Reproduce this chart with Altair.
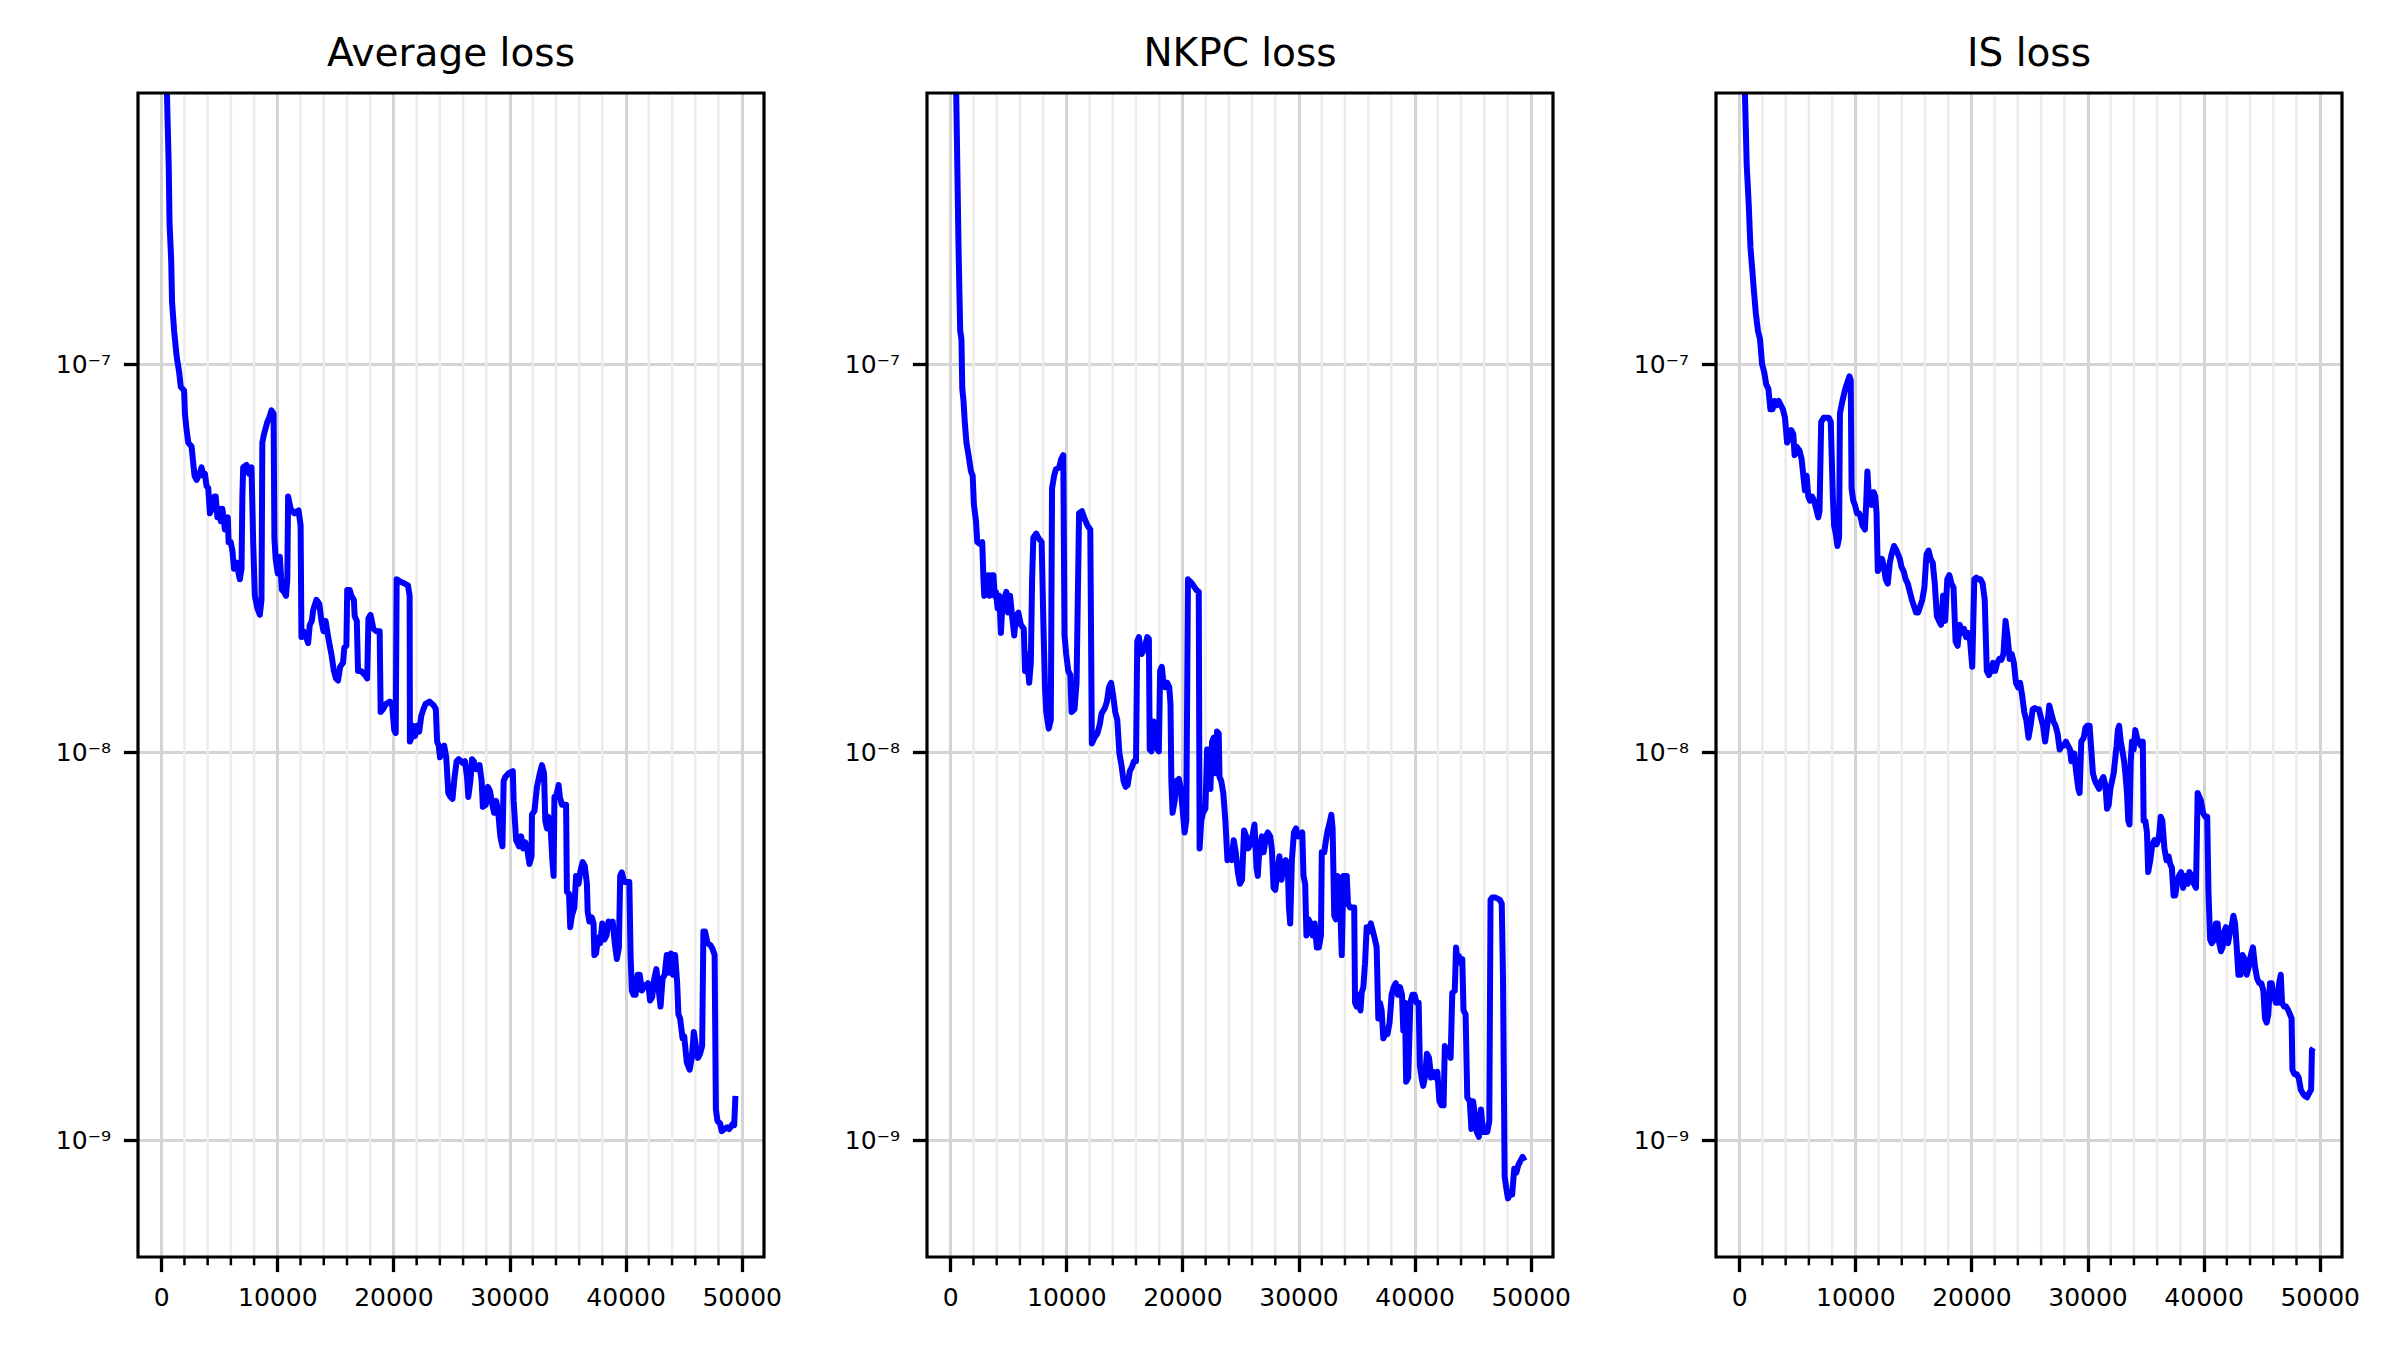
import altair as alt
import pandas as pd

# ---------------- data (training step, loss) ----------------
avg_points = [
    (400, 1.2e-6), (466, 5.35e-7), (645, 3.27e-7), (717, 2.31e-7), (860, 1.85e-7), (932, 1.45e-7),
    (1111, 1.22e-7), (1326, 1.05e-7), (1541, 9.55e-8), (1684, 8.75e-8), (1971, 8.55e-8), (2043, 7.46e-8),
    (2186, 6.76e-8), (2330, 6.28e-8), (2616, 6.13e-8), (2688, 5.83e-8), (2867, 5.16e-8), (3046, 5.03e-8),
    (3297, 5.22e-8), (3476, 5.42e-8), (3620, 5.16e-8), (3763, 5.22e-8), (3907, 4.85e-8), (4050, 4.79e-8),
    (4193, 4.13e-8), (4372, 4.24e-8), (4588, 4.56e-8), (4695, 4.56e-8), (4838, 4.03e-8), (4982, 4.24e-8),
    (5125, 3.94e-8), (5268, 4.24e-8), (5484, 3.75e-8), (5734, 4.03e-8), (5806, 3.48e-8), (5985, 3.48e-8),
    (6129, 3.31e-8), (6272, 2.97e-8), (6487, 3.08e-8), (6630, 2.93e-8), (6774, 2.79e-8), (6917, 2.97e-8),
    (6989, 4.56e-8), (7060, 5.42e-8), (7347, 5.50e-8), (7562, 5.22e-8), (7777, 5.42e-8), (7921, 3.48e-8),
    (8064, 2.53e-8), (8279, 2.35e-8), (8494, 2.26e-8), (8637, 2.47e-8), (8709, 6.28e-8), (8852, 6.60e-8),
    (9139, 7.10e-8), (9318, 7.30e-8), (9498, 7.60e-8), (9677, 7.46e-8), (9748, 3.57e-8), (9856, 3.15e-8),
    (10035, 2.89e-8), (10214, 3.19e-8), (10394, 2.62e-8), (10573, 2.59e-8), (10752, 2.53e-8), (10860, 2.79e-8),
    (10931, 4.56e-8), (11146, 4.24e-8), (11469, 4.13e-8), (11827, 4.20e-8), (12006, 3.84e-8), (12078, 1.98e-8),
    (12221, 2.05e-8), (12365, 2.03e-8), (12652, 1.91e-8), (12795, 2.13e-8), (12974, 2.18e-8), (13082, 2.32e-8),
    (13368, 2.47e-8), (13619, 2.41e-8), (13798, 2.18e-8), (13978, 2.05e-8), (14157, 2.18e-8), (14444, 1.93e-8),
    (14659, 1.79e-8), (14874, 1.62e-8), (15053, 1.55e-8), (15232, 1.53e-8), (15411, 1.66e-8), (15662, 1.70e-8),
    (15770, 1.86e-8), (15949, 1.88e-8), (16020, 2.62e-8), (16236, 2.62e-8), (16379, 2.53e-8), (16594, 2.47e-8),
    (16666, 2.24e-8), (16845, 2.18e-8), (16952, 1.62e-8), (17203, 1.62e-8), (17562, 1.58e-8), (17741, 1.55e-8),
    (17848, 2.21e-8), (18028, 2.26e-8), (18278, 2.08e-8), (18529, 2.05e-8), (18816, 2.05e-8), (18900, 1.27e-8),
    (19100, 1.29e-8), (19350, 1.33e-8), (19700, 1.35e-8), (19890, 1.32e-8), (20070, 1.14e-8), (20200, 1.12e-8),
    (20280, 2.79e-8), (20608, 2.75e-8), (20966, 2.72e-8), (21253, 2.69e-8), (21397, 2.53e-8), (21420, 1.065e-8),
    (21504, 1.08e-8), (21683, 1.17e-8), (21862, 1.10e-8), (22042, 1.17e-8), (22221, 1.13e-8), (22400, 1.24e-8),
    (22579, 1.29e-8), (22758, 1.33e-8), (23117, 1.35e-8), (23475, 1.32e-8), (23654, 1.29e-8), (23762, 1.065e-8),
    (23905, 1.04e-8), (24013, 9.70e-9), (24192, 1.016e-8), (24371, 1.04e-8), (24550, 9.70e-9), (24730, 7.85e-9),
    (24909, 7.67e-9), (25088, 7.58e-9), (25267, 8.63e-9), (25446, 9.48e-9), (25626, 9.59e-9), (25805, 9.48e-9),
    (25984, 9.37e-9), (26163, 9.48e-9), (26342, 8.63e-9), (26450, 7.67e-9), (26629, 8.43e-9), (26772, 9.59e-9),
    (26916, 9.48e-9), (27131, 9.04e-9), (27274, 9.15e-9), (27418, 9.26e-9), (27597, 8.43e-9), (27704, 7.23e-9),
    (27955, 7.32e-9), (28134, 8.14e-9), (28314, 7.95e-9), (28493, 7.40e-9), (28672, 6.98e-9), (28851, 7.49e-9),
    (29030, 6.98e-9), (29210, 6.07e-9), (29389, 5.72e-9), (29496, 8.43e-9), (29640, 8.63e-9), (29926, 8.83e-9),
    (30285, 8.94e-9), (30356, 7.49e-9), (30571, 5.93e-9), (30822, 5.72e-9), (31002, 6.07e-9), (31181, 5.65e-9),
    (31360, 5.86e-9), (31539, 5.59e-9), (31718, 5.15e-9), (31898, 5.39e-9), (31933, 6.90e-9), (32148, 7.06e-9),
    (32364, 8.14e-9), (32614, 8.83e-9), (32794, 9.26e-9), (32973, 8.83e-9), (33080, 6.66e-9), (33224, 6.36e-9),
    (33331, 6.82e-9), (33510, 6.66e-9), (33690, 5.27e-9), (33797, 4.80e-9), (33869, 7.67e-9), (34048, 7.76e-9),
    (34227, 8.23e-9), (34335, 7.67e-9), (34514, 7.32e-9), (34872, 7.32e-9), (34944, 4.37e-9), (35123, 4.32e-9),
    (35231, 3.54e-9), (35374, 3.79e-9), (35589, 3.98e-9), (35732, 4.80e-9), (35948, 4.58e-9), (36091, 4.91e-9),
    (36306, 5.21e-9), (36485, 5.09e-9), (36664, 4.58e-9), (36736, 3.88e-9), (36879, 3.66e-9), (37094, 3.75e-9),
    (37238, 3.62e-9), (37309, 3.00e-9), (37453, 3.03e-9), (37632, 3.33e-9), (37811, 3.22e-9), (37990, 3.62e-9),
    (38170, 3.29e-9), (38349, 3.37e-9), (38528, 3.66e-9), (38707, 3.58e-9), (38886, 3.66e-9), (39066, 3.22e-9),
    (39245, 2.93e-9), (39424, 3.14e-9), (39532, 4.80e-9), (39675, 4.90e-9), (39890, 4.63e-9), (40033, 4.63e-9),
    (40320, 4.63e-9), (40428, 3.00e-9), (40535, 2.43e-9), (40678, 2.37e-9), (40858, 2.37e-9), (41037, 2.67e-9),
    (41216, 2.67e-9), (41395, 2.43e-9), (41574, 2.51e-9), (41754, 2.48e-9), (41933, 2.54e-9), (42112, 2.29e-9),
    (42291, 2.34e-9), (42470, 2.61e-9), (42650, 2.76e-9), (42829, 2.48e-9), (43008, 2.21e-9), (43187, 2.61e-9),
    (43366, 2.67e-9), (43546, 3.00e-9), (43725, 2.70e-9), (43904, 3.03e-9), (44083, 2.67e-9), (44262, 3.00e-9),
    (44442, 2.54e-9), (44549, 2.11e-9), (44692, 2.06e-9), (44907, 1.83e-9), (45051, 1.85e-9), (45266, 1.59e-9),
    (45517, 1.52e-9), (45696, 1.63e-9), (45875, 1.90e-9), (46054, 1.75e-9), (46234, 1.63e-9), (46413, 1.67e-9),
    (46592, 1.75e-9), (46700, 3.45e-9), (46843, 3.45e-9), (47058, 3.22e-9), (47309, 3.18e-9), (47488, 3.11e-9),
    (47667, 3.00e-9), (47775, 1.20e-9), (47918, 1.12e-9), (48133, 1.106e-9), (48276, 1.055e-9), (48492, 1.068e-9),
    (48742, 1.08e-9), (48922, 1.068e-9), (49208, 1.10e-9), (49352, 1.093e-9), (49459, 1.30e-9),
]

nkpc_points = [
    (450, 1.2e-6), (501, 5.35e-7), (609, 3.27e-7), (716, 2.00e-7), (859, 1.22e-7), (967, 1.16e-7),
    (1038, 8.65e-8), (1146, 8.04e-8), (1253, 7.10e-8), (1396, 6.28e-8), (1575, 5.83e-8), (1790, 5.29e-8),
    (1933, 5.16e-8), (2041, 4.34e-8), (2220, 3.94e-8), (2327, 3.48e-8), (2578, 3.44e-8), (2757, 3.48e-8),
    (2864, 2.79e-8), (2936, 2.53e-8), (3115, 2.59e-8), (3294, 2.86e-8), (3401, 2.53e-8), (3544, 2.86e-8),
    (3723, 2.86e-8), (3831, 2.53e-8), (3938, 2.59e-8), (4081, 2.35e-8), (4224, 2.53e-8), (4368, 2.03e-8),
    (4475, 2.35e-8), (4618, 2.47e-8), (4833, 2.59e-8), (4976, 2.29e-8), (5155, 2.53e-8), (5298, 2.29e-8),
    (5513, 2.00e-8), (5656, 2.24e-8), (5871, 2.29e-8), (6086, 2.13e-8), (6337, 2.08e-8), (6444, 1.62e-8),
    (6587, 1.79e-8), (6802, 1.51e-8), (6945, 1.70e-8), (7053, 2.79e-8), (7160, 3.57e-8), (7411, 3.66e-8),
    (7590, 3.57e-8), (7876, 3.48e-8), (8019, 2.18e-8), (8162, 1.47e-8), (8270, 1.27e-8), (8485, 1.15e-8),
    (8664, 1.21e-8), (8771, 4.79e-8), (8950, 5.16e-8), (9093, 5.35e-8), (9380, 5.42e-8), (9559, 5.69e-8),
    (9738, 5.83e-8), (9845, 2.00e-8), (9988, 1.79e-8), (10167, 1.62e-8), (10346, 1.58e-8), (10454, 1.27e-8),
    (10704, 1.29e-8), (10883, 1.51e-8), (11098, 4.13e-8), (11349, 4.18e-8), (11528, 4.03e-8), (11814, 3.84e-8),
    (12065, 3.75e-8), (12200, 1.053e-8), (12423, 1.09e-8), (12673, 1.117e-8), (12888, 1.18e-8), (13031, 1.256e-8),
    (13318, 1.30e-8), (13497, 1.35e-8), (13676, 1.47e-8), (13855, 1.51e-8), (14034, 1.40e-8), (14213, 1.27e-8),
    (14392, 1.21e-8), (14571, 9.93e-9), (14750, 9.26e-9), (14929, 8.43e-9), (15108, 8.14e-9), (15287, 8.23e-9),
    (15466, 8.94e-9), (15645, 9.15e-9), (15824, 9.48e-9), (16003, 9.48e-9), (16110, 1.93e-8), (16253, 1.98e-8),
    (16468, 1.79e-8), (16719, 1.84e-8), (16969, 1.98e-8), (17112, 1.96e-8), (17184, 1.016e-8), (17327, 1.005e-8),
    (17470, 1.065e-8), (17542, 1.20e-8), (17721, 1.117e-8), (17864, 1.016e-8), (17972, 1.005e-8), (18079, 1.62e-8),
    (18222, 1.66e-8), (18330, 1.55e-8), (18509, 1.47e-8), (18688, 1.51e-8), (18867, 1.47e-8), (18974, 1.33e-8),
    (19046, 8.43e-9), (19153, 6.98e-9), (19332, 7.49e-9), (19475, 8.43e-9), (19690, 8.53e-9), (19833, 8.14e-9),
    (20012, 7.15e-9), (20191, 6.21e-9), (20334, 6.66e-9), (20478, 2.79e-8), (20836, 2.72e-8), (21194, 2.62e-8),
    (21408, 2.59e-8), (21480, 5.65e-9), (21623, 6.66e-9), (21766, 6.98e-9), (21981, 7.15e-9), (22124, 1.016e-8),
    (22268, 1.016e-8), (22411, 8.04e-9), (22554, 1.065e-8), (22697, 1.09e-8), (22840, 8.83e-9), (22984, 1.13e-8),
    (23127, 1.117e-8), (23198, 8.63e-9), (23342, 8.43e-9), (23521, 7.85e-9), (23700, 6.66e-9), (23879, 5.27e-9),
    (24058, 5.33e-9), (24237, 5.27e-9), (24416, 5.93e-9), (24595, 5.52e-9), (24774, 4.91e-9), (24953, 4.58e-9),
    (25132, 4.69e-9), (25311, 6.28e-9), (25490, 6.07e-9), (25669, 5.65e-9), (25848, 5.79e-9), (26027, 6.07e-9),
    (26206, 6.51e-9), (26385, 5.03e-9), (26492, 4.80e-9), (26635, 5.65e-9), (26850, 6.07e-9), (26993, 5.52e-9),
    (27208, 6.07e-9), (27351, 6.21e-9), (27566, 6.07e-9), (27709, 5.59e-9), (27852, 4.47e-9), (27996, 4.42e-9),
    (28175, 4.91e-9), (28354, 5.39e-9), (28533, 4.69e-9), (28712, 5.15e-9), (28891, 5.27e-9), (29070, 5.15e-9),
    (29177, 3.98e-9), (29284, 3.62e-9), (29428, 5.27e-9), (29607, 6.21e-9), (29786, 6.36e-9), (29965, 6.07e-9),
    (30323, 6.21e-9), (30430, 4.80e-9), (30573, 4.58e-9), (30681, 3.37e-9), (30860, 3.71e-9), (31039, 3.62e-9),
    (31218, 3.37e-9), (31397, 3.62e-9), (31576, 3.14e-9), (31755, 3.14e-9), (31934, 3.37e-9), (32005, 5.52e-9),
    (32220, 5.52e-9), (32363, 5.93e-9), (32506, 6.28e-9), (32650, 6.51e-9), (32829, 6.90e-9), (32936, 6.36e-9),
    (33079, 3.79e-9), (33222, 3.71e-9), (33366, 4.80e-9), (33545, 4.47e-9), (33724, 3.00e-9), (33867, 4.80e-9),
    (34010, 4.80e-9), (34153, 4.80e-9), (34261, 4.07e-9), (34440, 3.98e-9), (34798, 3.98e-9), (34869, 2.26e-9),
    (35012, 2.21e-9), (35156, 2.37e-9), (35335, 2.16e-9), (35442, 2.40e-9), (35585, 2.48e-9), (35728, 2.86e-9),
    (35872, 3.54e-9), (36051, 3.45e-9), (36230, 3.62e-9), (36409, 3.45e-9), (36588, 3.29e-9), (36731, 3.14e-9),
    (36874, 2.06e-9), (37017, 2.26e-9), (37160, 2.16e-9), (37304, 1.83e-9), (37483, 1.875e-9), (37662, 1.875e-9),
    (37841, 2.01e-9), (38020, 2.37e-9), (38199, 2.48e-9), (38378, 2.54e-9), (38557, 2.37e-9), (38736, 2.48e-9),
    (38915, 2.37e-9), (39022, 1.92e-9), (39165, 2.26e-9), (39273, 1.415e-9), (39452, 1.45e-9), (39631, 2.26e-9),
    (39810, 2.37e-9), (39989, 2.37e-9), (40168, 2.26e-9), (40347, 2.26e-9), (40454, 1.554e-9), (40597, 1.45e-9),
    (40740, 1.38e-9), (40884, 1.45e-9), (41063, 1.67e-9), (41242, 1.63e-9), (41421, 1.45e-9), (41600, 1.50e-9),
    (41779, 1.45e-9), (41958, 1.50e-9), (42137, 1.26e-9), (42316, 1.23e-9), (42495, 1.23e-9), (42602, 1.75e-9),
    (42745, 1.71e-9), (42960, 1.71e-9), (43103, 1.63e-9), (43246, 2.40e-9), (43461, 2.43e-9), (43569, 3.14e-9),
    (43676, 2.93e-9), (43819, 2.98e-9), (43962, 2.86e-9), (44106, 2.93e-9), (44213, 2.16e-9), (44392, 2.11e-9),
    (44535, 1.29e-9), (44750, 1.26e-9), (44893, 1.068e-9), (45036, 1.26e-9), (45180, 1.17e-9), (45359, 1.05e-9),
    (45538, 1.02e-9), (45717, 1.20e-9), (45896, 1.05e-9), (46075, 1.05e-9), (46254, 1.05e-9), (46433, 1.12e-9),
    (46540, 4.17e-9), (46683, 4.22e-9), (46970, 4.22e-9), (47328, 4.17e-9), (47507, 4.07e-9), (47614, 2.61e-9),
    (47757, 8.05e-10), (47900, 7.51e-10), (48044, 7.08e-10), (48223, 7.25e-10), (48402, 7.25e-10), (48581, 8.44e-10),
    (48760, 8.25e-10), (48939, 8.64e-10), (49118, 8.85e-10), (49297, 9.06e-10), (49476, 8.85e-10),
]

is_points = [
    (420, 1.2e-6), (466, 5.35e-7), (645, 3.27e-7), (824, 2.56e-7), (968, 2.00e-7), (1111, 1.77e-7),
    (1254, 1.56e-7), (1434, 1.35e-7), (1613, 1.22e-7), (1792, 1.16e-7), (1971, 1.00e-7), (2150, 9.55e-8),
    (2330, 8.86e-8), (2509, 8.65e-8), (2688, 7.65e-8), (2867, 7.65e-8), (3046, 8.04e-8), (3226, 7.84e-8),
    (3405, 8.04e-8), (3584, 7.84e-8), (3763, 7.65e-8), (3942, 7.28e-8), (4122, 6.28e-8), (4301, 6.44e-8),
    (4480, 6.76e-8), (4659, 6.60e-8), (4767, 5.83e-8), (4946, 6.13e-8), (5197, 5.98e-8), (5376, 5.69e-8),
    (5484, 5.29e-8), (5663, 4.73e-8), (5806, 5.16e-8), (5949, 4.56e-8), (6093, 4.45e-8), (6272, 4.56e-8),
    (6451, 4.45e-8), (6630, 4.24e-8), (6810, 4.03e-8), (6917, 4.18e-8), (7060, 7.10e-8), (7276, 7.28e-8),
    (7526, 7.28e-8), (7706, 7.28e-8), (7885, 7.10e-8), (8064, 4.56e-8), (8172, 3.84e-8), (8315, 3.66e-8),
    (8458, 3.40e-8), (8602, 3.57e-8), (8673, 7.46e-8), (8888, 8.04e-8), (9139, 8.65e-8), (9318, 8.97e-8),
    (9498, 9.31e-8), (9605, 9.08e-8), (9677, 4.79e-8), (9820, 4.45e-8), (9964, 4.34e-8), (10143, 4.13e-8),
    (10322, 4.13e-8), (10465, 4.03e-8), (10609, 3.84e-8), (10824, 3.75e-8), (10931, 4.34e-8), (11039, 5.29e-8),
    (11182, 4.45e-8), (11397, 4.34e-8), (11576, 4.68e-8), (11720, 4.56e-8), (11827, 4.13e-8), (11935, 2.93e-8),
    (12114, 3.00e-8), (12293, 3.15e-8), (12472, 3.00e-8), (12616, 2.79e-8), (12795, 2.72e-8), (12974, 3.08e-8),
    (13117, 3.23e-8), (13332, 3.40e-8), (13548, 3.31e-8), (13691, 3.23e-8), (13834, 3.15e-8), (13978, 3.00e-8),
    (14157, 2.93e-8), (14336, 2.79e-8), (14515, 2.72e-8), (14694, 2.59e-8), (14874, 2.47e-8), (15053, 2.38e-8),
    (15232, 2.29e-8), (15411, 2.29e-8), (15590, 2.38e-8), (15770, 2.47e-8), (15949, 2.66e-8), (16128, 3.23e-8),
    (16307, 3.31e-8), (16486, 3.15e-8), (16666, 3.08e-8), (16845, 2.72e-8), (17024, 2.24e-8), (17203, 2.18e-8),
    (17382, 2.13e-8), (17562, 2.53e-8), (17741, 2.18e-8), (17920, 2.79e-8), (18099, 2.86e-8), (18278, 2.72e-8),
    (18458, 2.66e-8), (18637, 1.93e-8), (18816, 1.88e-8), (18995, 2.13e-8), (19174, 2.03e-8), (19354, 2.08e-8),
    (19533, 1.98e-8), (19712, 2.03e-8), (19891, 1.93e-8), (20070, 1.66e-8), (20250, 2.79e-8), (20429, 2.82e-8),
    (20608, 2.79e-8), (20787, 2.79e-8), (20966, 2.72e-8), (21146, 2.47e-8), (21325, 1.62e-8), (21504, 1.58e-8),
    (21683, 1.62e-8), (21862, 1.70e-8), (22042, 1.62e-8), (22221, 1.70e-8), (22400, 1.74e-8), (22579, 1.73e-8),
    (22758, 1.79e-8), (22938, 2.18e-8), (23117, 1.98e-8), (23296, 1.74e-8), (23475, 1.79e-8), (23654, 1.70e-8),
    (23834, 1.51e-8), (24013, 1.47e-8), (24192, 1.51e-8), (24371, 1.40e-8), (24550, 1.27e-8), (24730, 1.21e-8),
    (24917, 1.09e-8), (25096, 1.17e-8), (25275, 1.29e-8), (25454, 1.30e-8), (25633, 1.29e-8), (25812, 1.29e-8),
    (25991, 1.227e-8), (26170, 1.17e-8), (26349, 1.065e-8), (26528, 1.17e-8), (26707, 1.32e-8), (26886, 1.256e-8),
    (27065, 1.20e-8), (27244, 1.17e-8), (27423, 1.117e-8), (27602, 1.016e-8), (27781, 1.04e-8), (27960, 1.04e-8),
    (28139, 1.065e-8), (28318, 1.04e-8), (28497, 1.016e-8), (28604, 9.48e-9), (28747, 9.48e-9), (28855, 9.93e-9),
    (29034, 8.83e-9), (29213, 8.04e-9), (29320, 7.85e-9), (29463, 1.065e-8), (29678, 1.09e-8), (29821, 1.157e-8),
    (29965, 1.17e-8), (30179, 1.17e-8), (30323, 1.016e-8), (30466, 8.83e-9), (30645, 8.43e-9), (30824, 8.23e-9),
    (31003, 8.04e-9), (31182, 8.43e-9), (31361, 8.63e-9), (31540, 8.23e-9), (31683, 7.15e-9), (31826, 7.32e-9),
    (31969, 8.04e-9), (32113, 8.43e-9), (32256, 8.83e-9), (32363, 9.48e-9), (32506, 1.04e-8), (32614, 1.14e-8),
    (32721, 1.17e-8), (32864, 1.065e-8), (33043, 9.93e-9), (33151, 9.48e-9), (33258, 8.83e-9), (33401, 7.85e-9),
    (33509, 6.66e-9), (33616, 6.51e-9), (33724, 9.48e-9), (33831, 1.065e-8), (33974, 1.016e-8), (34117, 1.14e-8),
    (34261, 1.09e-8), (34404, 1.065e-8), (34583, 1.04e-8), (34762, 1.065e-8), (34833, 6.66e-9), (34977, 6.66e-9),
    (35120, 6.21e-9), (35227, 4.91e-9), (35406, 5.27e-9), (35585, 5.79e-9), (35764, 5.93e-9), (35943, 5.79e-9),
    (36086, 5.93e-9), (36194, 6.21e-9), (36301, 6.82e-9), (36444, 6.66e-9), (36623, 5.65e-9), (36802, 5.27e-9),
    (36981, 5.39e-9), (37125, 5.15e-9), (37268, 5.03e-9), (37411, 4.27e-9), (37554, 4.27e-9), (37697, 4.58e-9),
    (37876, 4.80e-9), (38055, 4.91e-9), (38234, 4.47e-9), (38413, 4.80e-9), (38628, 4.58e-9), (38771, 4.91e-9),
    (38986, 4.80e-9), (39165, 4.58e-9), (39344, 4.47e-9), (39487, 7.85e-9), (39631, 7.67e-9), (39774, 7.49e-9),
    (39953, 6.98e-9), (40132, 6.82e-9), (40311, 6.82e-9), (40418, 4.37e-9), (40561, 3.29e-9), (40705, 3.22e-9),
    (40919, 3.29e-9), (41062, 3.62e-9), (41206, 3.62e-9), (41349, 3.22e-9), (41492, 3.07e-9), (41635, 3.14e-9),
    (41779, 3.45e-9), (41922, 3.54e-9), (42101, 3.22e-9), (42280, 3.45e-9), (42459, 3.62e-9), (42566, 3.79e-9),
    (42709, 3.62e-9), (42852, 3.14e-9), (42996, 2.67e-9), (43175, 2.67e-9), (43354, 3.00e-9), (43533, 2.93e-9),
    (43712, 2.67e-9), (43891, 2.80e-9), (44070, 3.00e-9), (44249, 3.14e-9), (44428, 2.80e-9), (44607, 2.61e-9),
    (44786, 2.54e-9), (44965, 2.54e-9), (45144, 2.43e-9), (45287, 2.06e-9), (45430, 2.01e-9), (45573, 2.11e-9),
    (45717, 2.54e-9), (45860, 2.54e-9), (46039, 2.37e-9), (46218, 2.26e-9), (46397, 2.26e-9), (46504, 2.54e-9),
    (46647, 2.67e-9), (46755, 2.26e-9), (46934, 2.21e-9), (47113, 2.21e-9), (47292, 2.16e-9), (47435, 2.11e-9),
    (47578, 2.06e-9), (47650, 1.52e-9), (47829, 1.48e-9), (48008, 1.48e-9), (48187, 1.45e-9), (48366, 1.35e-9),
    (48545, 1.32e-9), (48724, 1.30e-9), (48903, 1.29e-9), (49082, 1.32e-9), (49261, 1.35e-9), (49332, 1.71e-9),
    (49440, 1.73e-9),
]

panel_titles = ["Average loss", "NKPC loss", "IS loss"]
major_steps = [0, 10000, 20000, 30000, 40000, 50000]
minor_steps = [s for s in range(2000, 50000, 2000) if s % 10000 != 0]
decade_ticks = [1e-9, 1e-8, 1e-7]
x_domain = [-2000, 51920]
y_domain = [5e-10, 5e-7]

# ---------------- styling ----------------
PW, PH = 626, 1164
FONT = "DejaVu Sans"
MAJOR_GRID = "#d4d4d4"
MINOR_GRID = "#ececec"
FRAME_W = 3.2

x_scale = alt.Scale(domain=x_domain, nice=False, zero=False)
y_scale = alt.Scale(type="log", domain=y_domain, nice=False)

x_axis = alt.Axis(
    values=major_steps, format="d", title=None, grid=True, gridColor=MAJOR_GRID, gridWidth=3,
    tickSize=14.6, tickWidth=3.3, tickColor="black", domain=False,
    labelFont=FONT, labelFontSize=25, labelColor="black", labelPadding=14,
    labelFlush=False, labelOverlap=False,
)
y_axis = alt.Axis(
    values=decade_ticks, title=None, grid=True, gridColor=MAJOR_GRID, gridWidth=3,
    tickSize=14.6, tickWidth=3.3, tickColor="black", domain=False,
    labelFont=FONT, labelFontSize=25, labelColor="black", labelPadding=13,
    labelOverlap=False,
    labelExpr="datum.value < 3e-9 ? '10⁻⁹' : (datum.value < 3e-8 ? '10⁻⁸' : '10⁻⁷')",
)


def panel(points, title):
    df = pd.DataFrame(points, columns=["step", "loss"])
    minor_df = pd.DataFrame({"step": minor_steps})
    xenc = alt.X("step:Q", scale=x_scale, axis=x_axis)

    minor_grid = alt.Chart(minor_df).mark_rule(color=MINOR_GRID, strokeWidth=2.5).encode(
        x=xenc, y=alt.value(0), y2=alt.value(PH)
    )
    minor_ticks = alt.Chart(minor_df).mark_rule(color="black", strokeWidth=2.5).encode(
        x=xenc, y=alt.value(PH), y2=alt.value(PH + 8.3)
    )
    line = alt.Chart(df).mark_line(color="#0000ff", strokeWidth=6, clip=True, strokeJoin="round").encode(
        x=xenc,
        y=alt.Y("loss:Q", scale=y_scale, axis=y_axis),
    )
    # axes frame drawn on top of the grid lines (matplotlib spines)
    frame = alt.Chart(pd.DataFrame({"k": [0]})).mark_rect(
        filled=False, stroke="black", strokeWidth=FRAME_W, fillOpacity=0
    ).encode(x=alt.value(0), x2=alt.value(PW), y=alt.value(0), y2=alt.value(PH))
    return alt.layer(minor_grid, minor_ticks, line, frame).properties(
        width=PW, height=PH,
        title=alt.TitleParams(
            text=title, font=FONT, fontSize=39, fontWeight="normal", color="black",
            anchor="middle", offset=17,
        ),
    )


charts = [panel(p, t) for p, t in zip([avg_points, nkpc_points, is_points], panel_titles)]

chart = (
    alt.hconcat(*charts, spacing=163, bounds="flush")
    .properties(padding={"left": 47, "top": 27, "right": 5, "bottom": 5}, background="white")
    .configure_view(stroke=None)
)

chart.save("out.html", embed_options={"renderer": "svg", "actions": False})
